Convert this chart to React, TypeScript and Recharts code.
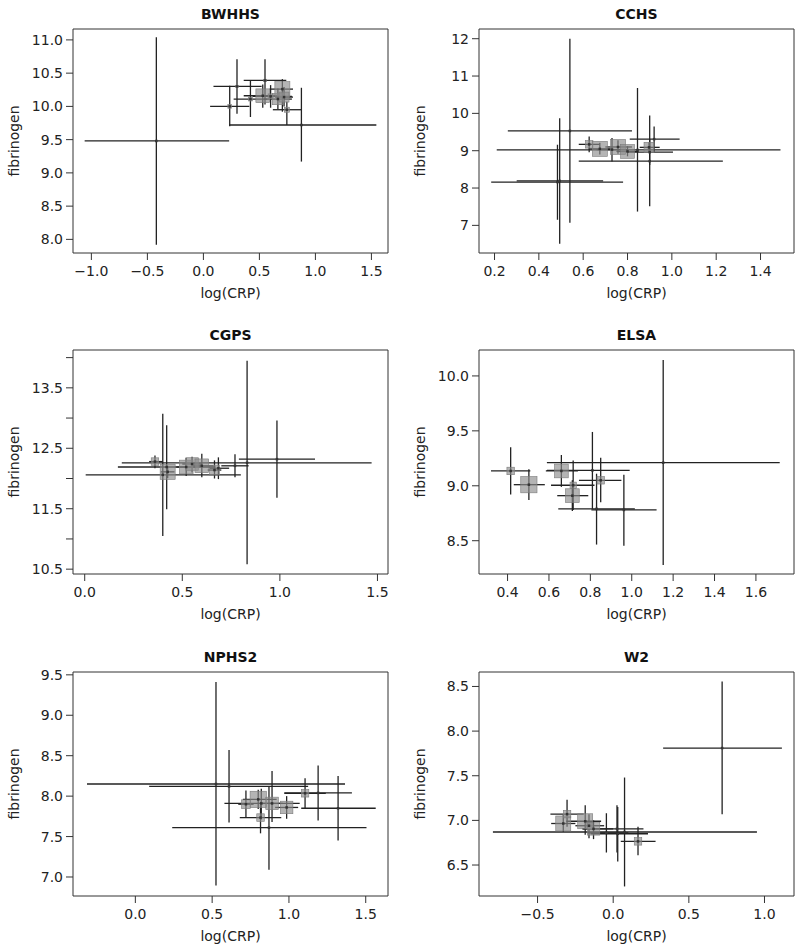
import { ScatterChart, Scatter, XAxis, YAxis, ErrorBar, ReferenceArea } from "recharts";

// one row per study stratum:
// [log(CRP), fibrinogen, logCRP lower, logCRP upper, fibrinogen lower, fibrinogen upper, weight]
type Stratum = [number, number, number, number, number, number, number];

const bwhhs: Stratum[] = [
  [-0.42, 9.48, -1.06, 0.23, 7.92, 11.04, 0],
  [0.235, 10.0, 0.06, 0.41, 9.7, 10.31, 3],
  [0.3, 10.3, 0.09, 0.52, 9.89, 10.71, 2],
  [0.42, 10.11, 0.27, 0.57, 9.84, 10.39, 3],
  [0.55, 10.39, 0.36, 0.74, 10.03, 10.71, 2],
  [0.53, 10.16, 0.36, 0.66, 9.98, 10.33, 11],
  [0.6, 10.15, 0.44, 0.79, 9.98, 10.32, 4],
  [0.665, 10.11, 0.54, 0.79, 9.96, 10.27, 9],
  [0.705, 10.26, 0.59, 0.8, 9.92, 10.41, 12],
  [0.72, 10.14, 0.64, 0.8, 10.0, 10.29, 8],
  [0.745, 9.95, 0.62, 0.88, 9.72, 10.07, 4],
  [0.875, 9.72, 0.23, 1.544, 9.17, 10.28, 0],
];

const cchs: Stratum[] = [
  [0.484, 8.16, 0.185, 0.78, 7.15, 9.16, 0],
  [0.494, 8.19, 0.3, 0.69, 6.51, 9.87, 0],
  [0.54, 9.53, 0.26, 0.82, 7.07, 12.0, 0],
  [0.627, 9.17, 0.58, 0.675, 8.96, 9.38, 6],
  [0.675, 9.05, 0.625, 0.725, 8.9, 9.21, 12],
  [0.73, 9.03, 0.66, 0.8, 8.71, 9.34, 1],
  [0.757, 9.1, 0.7, 0.82, 8.92, 9.28, 12],
  [0.8, 8.98, 0.75, 0.85, 8.85, 9.12, 11],
  [0.845, 9.02, 0.21, 1.49, 7.37, 10.68, 0],
  [0.897, 9.09, 0.855, 0.945, 8.95, 9.22, 8],
  [0.9, 8.72, 0.58, 1.23, 7.51, 9.94, 0],
  [0.9, 8.96, 0.8, 1.005, 8.62, 9.3, 1],
  [0.92, 9.31, 0.81, 1.035, 8.97, 9.65, 0],
];

const cgps: Stratum[] = [
  [0.36, 12.28, 0.33, 0.4, 12.17, 12.38, 6],
  [0.4, 12.06, 0.005, 0.8, 11.05, 13.07, 0],
  [0.42, 12.19, 0.17, 0.67, 11.49, 12.88, 0],
  [0.425, 12.11, 0.39, 0.46, 12.01, 12.21, 12],
  [0.52, 12.19, 0.47, 0.57, 12.04, 12.34, 11],
  [0.55, 12.24, 0.5, 0.6, 12.1, 12.36, 10],
  [0.6, 12.21, 0.55, 0.66, 12.02, 12.41, 11],
  [0.665, 12.14, 0.63, 0.7, 12.0, 12.3, 8],
  [0.685, 12.17, 0.64, 0.74, 11.99, 12.35, 1],
  [0.77, 12.21, 0.7, 0.84, 12.02, 12.4, 1],
  [0.832, 12.26, 0.19, 1.47, 10.58, 13.95, 0],
  [0.985, 12.32, 0.79, 1.18, 11.68, 12.96, 0],
];

const elsa: Stratum[] = [
  [0.415, 9.135, 0.32, 0.51, 8.92, 9.35, 6],
  [0.503, 9.01, 0.43, 0.58, 8.87, 9.15, 13],
  [0.66, 9.135, 0.585, 0.74, 8.99, 9.28, 11],
  [0.713, 8.91, 0.64, 0.79, 8.77, 9.05, 11],
  [0.717, 9.005, 0.61, 0.82, 8.78, 9.23, 5],
  [0.81, 9.14, 0.59, 0.99, 8.79, 9.49, 0],
  [0.83, 8.79, 0.645, 1.015, 8.465, 9.11, 0],
  [0.85, 9.05, 0.745, 0.95, 8.85, 9.255, 6],
  [0.962, 8.78, 0.805, 1.12, 8.455, 9.1, 0],
  [1.152, 9.21, 0.59, 1.715, 8.28, 10.145, 0],
];

const nphs2: Stratum[] = [
  [0.525, 8.15, -0.315, 1.365, 6.895, 9.41, 0],
  [0.61, 8.12, 0.09, 1.125, 7.675, 8.57, 0],
  [0.72, 7.9, 0.67, 0.77, 7.74, 8.07, 7],
  [0.8, 7.96, 0.7, 0.92, 7.84, 8.08, 13],
  [0.815, 7.735, 0.68, 0.95, 7.54, 7.93, 6],
  [0.82, 7.91, 0.58, 1.07, 7.71, 8.09, 1],
  [0.87, 7.61, 0.24, 1.505, 7.09, 8.125, 0],
  [0.89, 7.91, 0.82, 0.96, 7.68, 8.31, 10],
  [0.985, 7.86, 0.91, 1.06, 7.72, 8.0, 10],
  [1.105, 8.035, 0.97, 1.24, 7.85, 8.22, 6],
  [1.19, 8.04, 0.97, 1.41, 7.7, 8.38, 0],
  [1.32, 7.85, 1.08, 1.565, 7.45, 8.25, 0],
];

const w2: Stratum[] = [
  [-0.33, 6.965, -0.41, -0.25, 6.87, 7.06, 12],
  [-0.305, 7.07, -0.415, -0.195, 6.93, 7.23, 6],
  [-0.185, 6.99, -0.31, -0.08, 6.84, 7.17, 12],
  [-0.16, 6.94, -0.25, -0.06, 6.8, 7.07, 5],
  [-0.13, 6.905, -0.2, 0.0, 6.79, 7.0, 10],
  [-0.045, 6.86, -0.17, 0.1, 6.64, 7.08, 1],
  [0.025, 6.905, -0.205, 0.2, 6.64, 7.17, 0],
  [0.03, 6.85, -0.15, 0.23, 6.54, 7.15, 0],
  [0.075, 6.87, -0.795, 0.95, 6.26, 7.48, 0],
  [0.164, 6.765, 0.05, 0.28, 6.61, 6.93, 6],
  [0.72, 7.81, 0.33, 1.115, 7.07, 8.555, 0],
];

// axis ticks and ranges
const bwhhsXTicks = [-1, -0.5, 0, 0.5, 1, 1.5];
const bwhhsYTicks = [8, 8.5, 9, 9.5, 10, 10.5, 11];
const cchsXTicks = [0.2, 0.4, 0.6, 0.8, 1.0, 1.2, 1.4];
const cchsYTicks = [7, 8, 9, 10, 11, 12];
const cgpsXTicks = [0, 0.5, 1, 1.5];
const cgpsYTicks = [10.5, 11, 11.5, 12, 12.5, 13, 13.5, 14];
const cgpsYLabelled = [10.5, 11.5, 12.5, 13.5];
const elsaXTicks = [0.4, 0.6, 0.8, 1.0, 1.2, 1.4, 1.6];
const elsaYTicks = [8.5, 9, 9.5, 10];
const nphs2XTicks = [0, 0.5, 1, 1.5];
const nphs2YTicks = [7, 7.5, 8, 8.5, 9, 9.5];
const w2XTicks = [-0.5, 0, 0.5, 1];
const w2YTicks = [6.5, 7, 7.5, 8, 8.5];

type Panel = {
  title: string;
  rows: Stratum[];
  xTicks: number[];
  yTicks: number[];
  xDomain: [number, number];
  yDomain: [number, number];
  xDigits: number;
  yDigits: number;
  yLabelled?: number[];
  left: number;
  top: number;
};

const panels: Panel[] = [
  { title: "BWHHS", rows: bwhhs, xTicks: bwhhsXTicks, yTicks: bwhhsYTicks, xDomain: [-1.164, 1.648], yDomain: [7.795, 11.164], xDigits: 1, yDigits: 1, left: 0, top: 0 },
  { title: "CCHS", rows: cchs, xTicks: cchsXTicks, yTicks: cchsYTicks, xDomain: [0.13, 1.551], yDomain: [6.26, 12.26], xDigits: 1, yDigits: 0, left: 406, top: 0 },
  { title: "CGPS", rows: cgps, xTicks: cgpsXTicks, yTicks: cgpsYTicks, xDomain: [-0.06, 1.554], yDomain: [10.42, 14.126], xDigits: 1, yDigits: 1, yLabelled: cgpsYLabelled, left: 0, top: 321 },
  { title: "ELSA", rows: elsa, xTicks: elsaXTicks, yTicks: elsaYTicks, xDomain: [0.262, 1.784], yDomain: [8.197, 10.236], xDigits: 1, yDigits: 1, left: 406, top: 321 },
  { title: "NPHS2", rows: nphs2, xTicks: nphs2XTicks, yTicks: nphs2YTicks, xDomain: [-0.406, 1.645], yDomain: [6.765, 9.535], xDigits: 1, yDigits: 1, left: 0, top: 643 },
  { title: "W2", rows: w2, xTicks: w2XTicks, yTicks: w2YTicks, xDomain: [-0.887, 1.195], yDomain: [6.153, 8.662], xDigits: 1, yDigits: 1, left: 406, top: 643 },
];

const CHART_W = 394;
const CHART_H = 302;
const BOX_LEFT = 73;
const BOX_TOP = 29;
const BOX_W = 315;
const BOX_H = 224;
const Y_AXIS_W = 60;
const X_AXIS_H = 45;
const INK = "#222";
const FONT_SIZE = 14;

function fmt(v: number, digits: number) {
  const s = Math.abs(v).toFixed(digits);
  return v < 0 ? "\u2212" + s : s;
}

function StudySquare(props: any) {
  const { cx, cy, payload } = props;
  const side = (payload?.w ?? 0) * 1.25;
  if (cx == null || cy == null || side <= 0) return <g />;
  return (
    <rect
      x={cx - side / 2}
      y={cy - side / 2}
      width={side}
      height={side}
      fill="#8c8c8c"
      fillOpacity={0.65}
      stroke="#7a7a7a"
      strokeWidth={0.6}
    />
  );
}

function StudyDot(props: any) {
  const { cx, cy } = props;
  if (cx == null || cy == null) return <g />;
  return <rect x={cx - 1.25} y={cy - 1.25} width={2.5} height={2.5} fill="#333" />;
}

const xLabel = () => (
  <text x={BOX_LEFT + BOX_W / 2} y={BOX_TOP + BOX_H + 40} textAnchor="middle" dominantBaseline="central" fontSize={FONT_SIZE} fill={INK}>
    log(CRP)
  </text>
);

const yLabel = () => (
  <text
    x={14}
    y={BOX_TOP + BOX_H / 2}
    textAnchor="middle"
    dominantBaseline="central"
    fontSize={FONT_SIZE}
    fill={INK}
    transform={`rotate(-90 14 ${BOX_TOP + BOX_H / 2})`}
  >
    fibrinogen
  </text>
);

function StudyPanel({ p }: { p: Panel }) {
  const data = p.rows.map(([x, y, xlo, xhi, ylo, yhi, w]) => ({
    x,
    y,
    w,
    xErr: [x - xlo, xhi - x],
    yErr: [y - ylo, yhi - y],
  }));

  const xTick = (t: any) => (
    <text x={t.x} y={t.y} dy="0.75em" textAnchor="middle" fontSize={FONT_SIZE} fill={INK}>
      {fmt(t.payload.value, p.xDigits)}
    </text>
  );
  const yTick = (t: any) => {
    const v = t.payload.value;
    if (p.yLabelled && !p.yLabelled.includes(v)) return <g />;
    return (
      <text x={t.x} y={t.y} textAnchor="end" dominantBaseline="central" fontSize={FONT_SIZE} fill={INK}>
        {fmt(v, p.yDigits)}
      </text>
    );
  };

  return (
    <div style={{ position: "absolute", left: p.left, top: p.top }}>
      <ScatterChart
        width={CHART_W}
        height={CHART_H}
        margin={{
          top: BOX_TOP,
          right: CHART_W - BOX_LEFT - BOX_W,
          bottom: CHART_H - BOX_TOP - BOX_H - X_AXIS_H,
          left: BOX_LEFT - Y_AXIS_W,
        }}
      >
        <XAxis
          type="number"
          dataKey="x"
          domain={p.xDomain}
          allowDataOverflow
          ticks={p.xTicks}
          interval={0}
          axisLine={false}
          tickLine={{ stroke: "#333" }}
          tickSize={7}
          tickMargin={5}
          height={X_AXIS_H}
          tick={xTick}
          label={{ content: xLabel }}
        />
        <YAxis
          type="number"
          dataKey="y"
          domain={p.yDomain}
          allowDataOverflow
          ticks={p.yTicks}
          interval={0}
          axisLine={false}
          tickLine={{ stroke: "#333" }}
          tickSize={7}
          tickMargin={3}
          width={Y_AXIS_W}
          tick={yTick}
          label={{ content: yLabel }}
        />
        <ReferenceArea
          x1={p.xDomain[0]}
          x2={p.xDomain[1]}
          y1={p.yDomain[0]}
          y2={p.yDomain[1]}
          fill="none"
          stroke="#333"
          strokeWidth={1}
          ifOverflow="visible"
          label={{ value: p.title, position: "top", offset: 10, fontSize: FONT_SIZE, fontWeight: "bold", fill: "#111" }}
        />
        <Scatter data={data} shape={<StudySquare />} isAnimationActive={false} />
        <Scatter data={data} shape={<StudyDot />} isAnimationActive={false}>
          <ErrorBar dataKey="xErr" direction="x" width={0} stroke={INK} strokeWidth={1.3} />
          <ErrorBar dataKey="yErr" direction="y" width={0} stroke={INK} strokeWidth={1.3} />
        </Scatter>
      </ScatterChart>
    </div>
  );
}

export default function App() {
  return (
    <div
      style={{
        position: "absolute",
        left: 0,
        top: 0,
        width: 800,
        height: 952,
        overflow: "hidden",
        background: "#fff",
        fontFamily: '"DejaVu Sans", sans-serif',
      }}
    >
      {panels.map((p) => (
        <StudyPanel key={p.title} p={p} />
      ))}
    </div>
  );
}
